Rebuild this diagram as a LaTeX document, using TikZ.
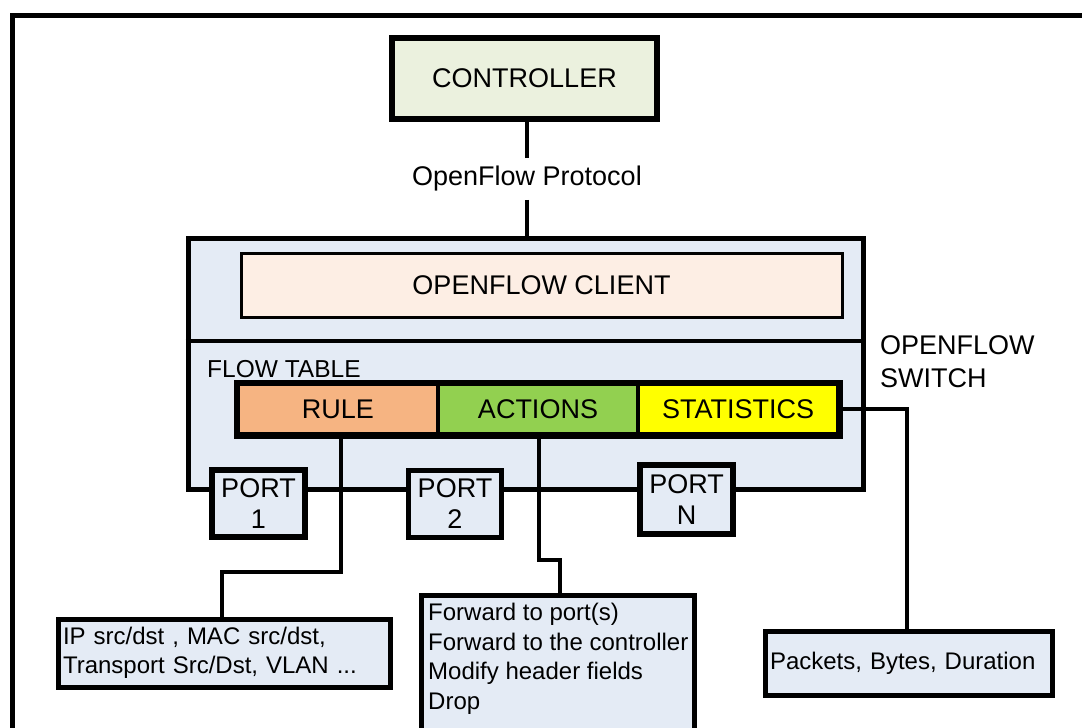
\documentclass[tikz,border=0pt]{standalone}
\usepackage{fontspec}
\setmainfont{Liberation Sans}
\definecolor{ctrlfill}{HTML}{EBF1DE}
\definecolor{swfill}{HTML}{E4EBF5}
\definecolor{clfill}{HTML}{FDEEE4}
\definecolor{rulefill}{HTML}{F6B482}
\definecolor{actfill}{HTML}{92D050}
\definecolor{statfill}{HTML}{FFFF00}
\begin{document}
\begin{tikzpicture}[x=1pt,y=-1pt,
  lbl/.style={font=\fontsize{27}{31}\selectfont, inner sep=0pt},
  sml/.style={font=\fontsize{24}{29.5}\selectfont},
  heavy/.style={draw=black, line width=5pt},
  wire/.style={draw=black, line width=4.5pt},
  cell/.style={draw=black, line width=3.5pt, minimum width=200pt, minimum height=50pt, lbl},
  port/.style={heavy, line width=5.5pt, fill=swfill, lbl, align=center, minimum width=93pt, minimum height=67pt},
  lowbox/.style={heavy, fill=swfill, align=left, inner xsep=5pt, sml}
]
\useasboundingbox (0,0) rectangle (1082,728);
\clip (0,0) rectangle (1082,728);
\fill[white] (0,0) rectangle (1082,728);
% outer frame
\draw[line width=5pt] (12,780) -- (12,15) -- (1120,15);

% controller and protocol
\node[heavy, line width=6pt, fill=ctrlfill, minimum width=265pt, minimum height=81pt, lbl] (ctrl) at (524.5,78.5) {CONTROLLER};
\node[lbl, inner ysep=8pt] (proto) at (527,179) {OpenFlow Protocol};

% switch
\node[heavy, fill=swfill, minimum width=675pt, minimum height=251pt] (sw) at (525.5,363.5) {};
\draw[wire] (proto.north) -- (proto.north |- ctrl.south);
\draw[wire] (proto.south) -- (proto.south |- sw.north);

\node[draw=black, line width=3pt, fill=clfill, minimum width=601pt, minimum height=64pt, lbl] (client) at (541.5,285) {OPENFLOW CLIENT};
\coordinate (divy) at (0,341);
\draw[line width=4pt] (sw.west |- divy) -- (sw.east |- divy);

\node[font=\fontsize{24.5}{28}\selectfont, anchor=west, inner sep=0pt] (ftl) at (207,369) {FLOW TABLE};
\node[cell, fill=rulefill] (rule) at (338,409) {RULE};
\node[cell, fill=actfill] (act) at (538,409) {ACTIONS};
\node[cell, fill=statfill] (stat) at (738,409) {STATISTICS};
\draw[line width=5.5pt] (rule.north west) rectangle (stat.south east);

\node[lbl, anchor=west, align=left, font=\fontsize{27}{33}\selectfont] (swl) at (880,361.5) {OPENFLOW\\SWITCH};

% ports
\node[port] (p1) at (258.5,503.5) {PORT\\1};
\node[port] (p2) at (455,504) {PORT\\2};
\node[port, minimum height=69pt] (pn) at (686.5,499.5) {PORT\\N};

% connector bends
\coordinate (rb1) at (341,572);
\coordinate (rb2) at (222,572);
\coordinate (ab1) at (539,560);
\coordinate (ab2) at (560,560);
\coordinate (sb) at (907,409);

% lower boxes
\node[lowbox, minimum width=332pt, minimum height=68pt, text width=322pt] (ip) at (224,653) {IP src/dst , MAC src/dst,\\Transport Src/Dst, VLAN ...};
\node[heavy, fill=swfill, minimum width=273pt, minimum height=150pt] (fwd) at (557.5,670) {};
\node[sml, anchor=north west, align=left, inner sep=0pt] (fwdt) at (428,603) {Forward to port(s)\\Forward to the controller\\Modify header fields\\Drop};
\node[lowbox, minimum width=287pt, minimum height=64pt, text width=277pt] (pk) at (908.5,663) {Packets, Bytes, Duration};

\draw[wire] (rule.south -| rb1) -- (rb1) -- (rb2) -- (rb2 |- ip.north);
\draw[wire] (act.south -| ab1) -- (ab1) -- (ab2) -- (ab2 |- fwd.north);
\draw[wire] (stat.east) -- (sb) -- (sb |- pk.north);
\end{tikzpicture}
\end{document}
